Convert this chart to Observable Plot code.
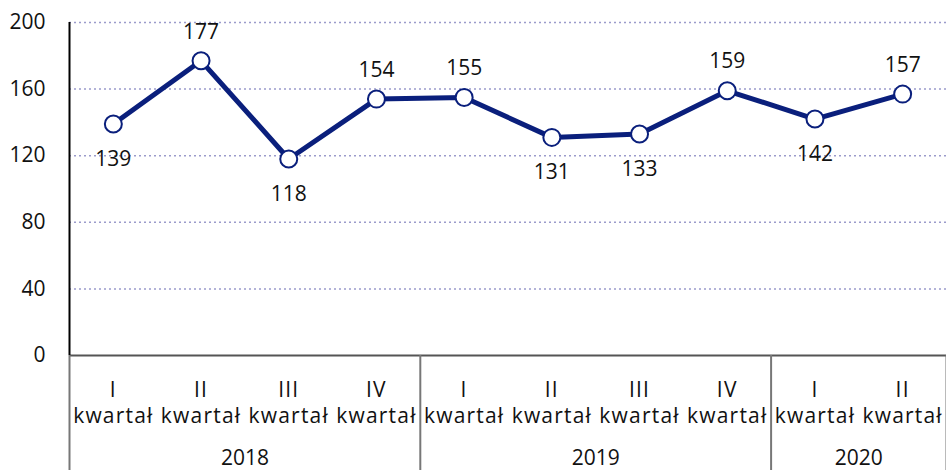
<!DOCTYPE html>
<html>
<head>
<meta charset="utf-8">
<script src="https://cdn.jsdelivr.net/npm/d3@7"></script>
<script src="https://cdn.jsdelivr.net/npm/@observablehq/plot@0.6"></script>
<style>
  html, body { margin: 0; padding: 0; background: #fff; }
  .qlabels text { letter-spacing: 1.2px; }
</style>
</head>
<body>
<div id="chart"></div>
<script>
const quarterNames = ["I", "II", "III", "IV", "I", "II", "III", "IV", "I", "II"];
const quarterWord = "kwartał";
const years = ["2018", "2019", "2020"];
const yearQuarterCounts = [4, 4, 2];
const values = [139, 177, 118, 154, 155, 131, 133, 159, 142, 157];
const labelSide = ["below", "above", "below", "above", "above", "below", "below", "above", "below", "above"];
const yTicks = [0, 40, 80, 120, 160, 200];

const idx = values.map((d, i) => i);
// year group centres and boundaries (in category-index units)
const boundaries = [-0.5];
const yearCenters = [];
let acc = 0;
yearQuarterCounts.forEach(n => {
  yearCenters.push(acc + (n - 1) / 2);
  acc += n;
  boundaries.push(acc - 0.5);
});

const navy = "#0a1f7c";

const chart = Plot.plot({
  width: 946,
  height: 470,
  marginLeft: 69,
  marginRight: 0,
  marginTop: 22,
  marginBottom: 115,
  style: { fontFamily: "Open Sans", fontSize: "21px", color: "#111", background: "#fff" },
  x: { type: "linear", domain: [-0.5, idx.length - 0.5] },
  y: { domain: [0, 200] },
  marks: [
    Plot.gridY(yTicks.filter(d => d > 0), { stroke: "#9b9bcb", strokeOpacity: 1, strokeWidth: 1.5, strokeDasharray: "2,3" }),
    Plot.axisY(yTicks, { tickSize: 0, tickPadding: 24, label: null }),
    Plot.ruleY([0], { stroke: "#555", strokeWidth: 2 }),
    Plot.axisX(boundaries, { tickSize: 115, fill: "none", stroke: "#777", strokeWidth: 2, label: null }),
    Plot.axisX(idx, { tickSize: 0, tickPadding: 24, lineHeight: 1.2, label: null, className: "qlabels",
      tickFormat: d => quarterNames[d] + "\n" + quarterWord }),
    Plot.axisX(yearCenters, { tickSize: 0, tickPadding: 95, label: null,
      tickFormat: d => years[yearCenters.indexOf(d)] }),
    Plot.ruleX([-0.5], { y1: 0, y2: 200, stroke: "#000", strokeWidth: 2 }),
    Plot.line(values, { x: (d, i) => i, y: d => d, stroke: navy, strokeWidth: 5 }),
    Plot.dot(values, { x: (d, i) => i, y: d => d, r: 8.5, fill: "white", stroke: navy, strokeWidth: 2 }),
    Plot.text(values, { filter: (d, i) => labelSide[i] === "above", x: (d, i) => i, y: d => d, text: d => String(d), dy: -29 }),
    Plot.text(values, { filter: (d, i) => labelSide[i] === "below", x: (d, i) => i, y: d => d, text: d => String(d), dy: 35 })
  ]
});
document.getElementById("chart").appendChild(chart);
</script>
</body>
</html>
